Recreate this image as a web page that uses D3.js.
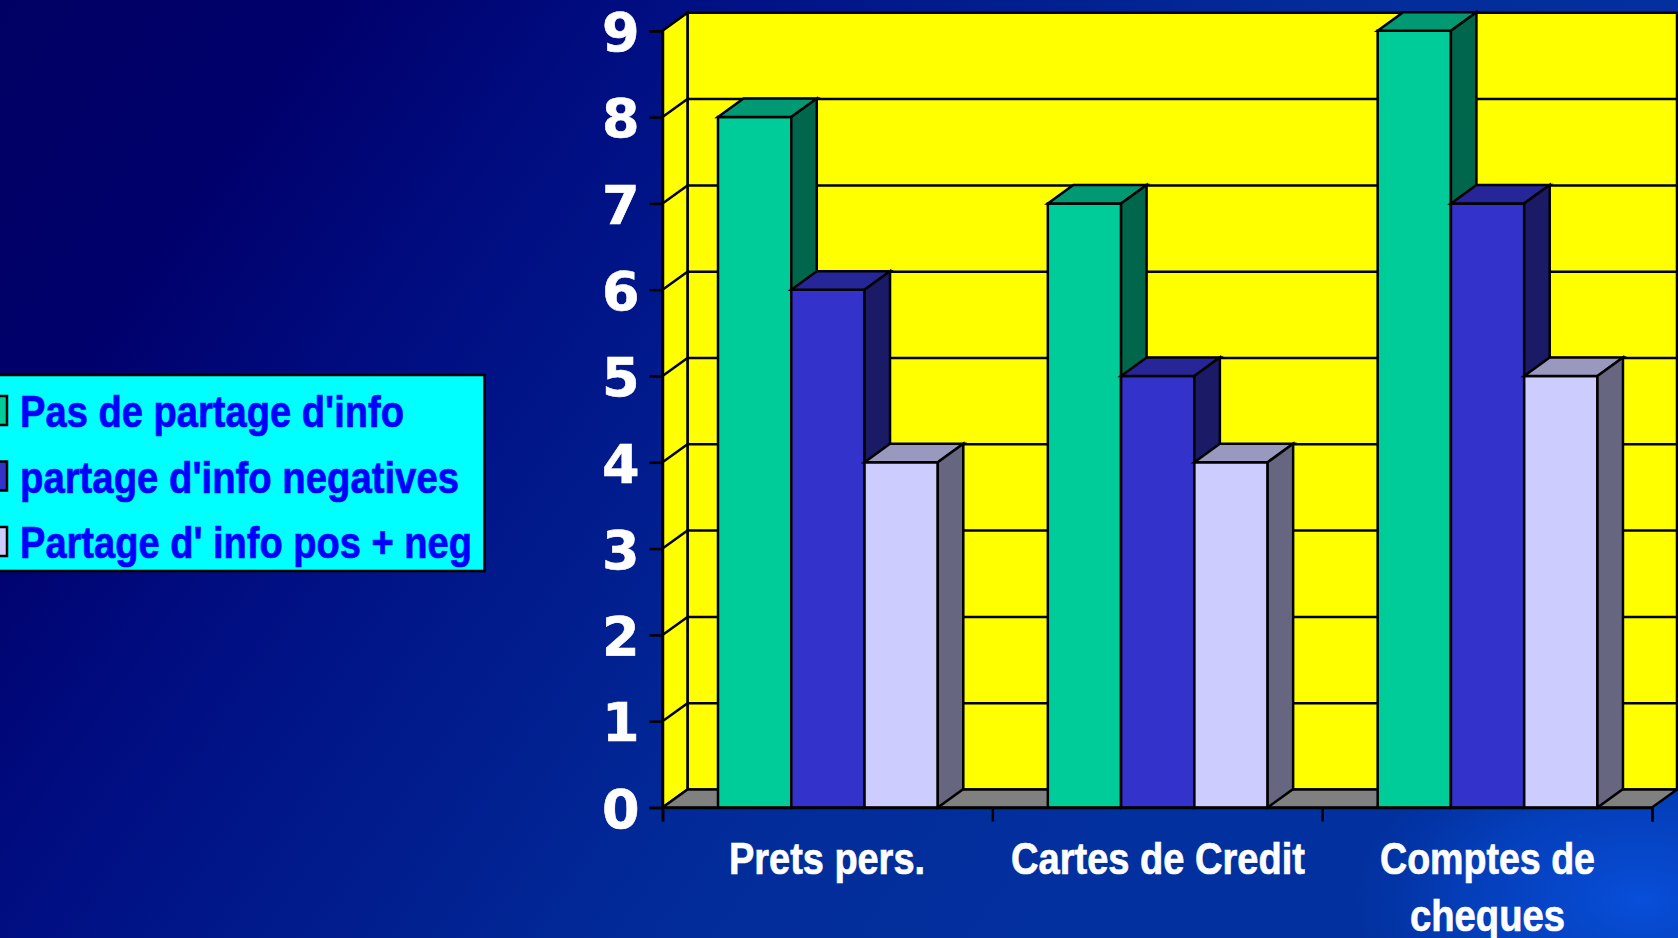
<!DOCTYPE html>
<html><head><meta charset="utf-8">
<script src="https://cdnjs.cloudflare.com/ajax/libs/d3/7.8.5/d3.min.js"></script>
<style>html,body{margin:0;padding:0;background:#001a80;overflow:hidden}svg{display:block}</style>
</head><body><svg id="c" width="1678" height="938"></svg>
<script>
const categories = ["Prets pers.", "Cartes de Credit", "Comptes de cheques"];
const seriesNames = ["Pas de partage d'info", "partage d'info negatives", "Partage d' info pos + neg"];
const seriesA = [8, 7, 9];
const seriesB = [6, 5, 7];
const seriesC = [4, 4, 5];
const yTicks = [0,1,2,3,4,5,6,7,8,9];
const frontColors = ["#00CC99","#3333CC","#CCCCFF"];
const topColors = ["#009973","#262699","#9999BF"];
const sideColors = ["#00664C","#1A1A66","#666680"];
const allSeries = [seriesA, seriesB, seriesC];

const svg = d3.select("#c"), defs = svg.append("defs");
const W = 1678, H = 938;

// background
const lg = defs.append("linearGradient").attr("id","bg").attr("gradientUnits","userSpaceOnUse")
  .attr("x1",0).attr("y1",0).attr("x2",1122).attr("y2",790);
[[0,"#000064"],[0.2,"#00006c"],[0.39,"#000e82"],[0.79,"#022c9a"],[1,"#02309e"]].forEach(s=>lg.append("stop").attr("offset",s[0]).attr("stop-color",s[1]));
svg.append("rect").attr("width",W).attr("height",H).attr("fill","url(#bg)");
const rg = defs.append("radialGradient").attr("id","glow");
rg.append("stop").attr("offset",0).attr("stop-color","#0850dc").attr("stop-opacity",0.95);
rg.append("stop").attr("offset",0.6).attr("stop-color","#0648cc").attr("stop-opacity",0.6);
rg.append("stop").attr("offset",1).attr("stop-color","#0640c0").attr("stop-opacity",0);
svg.append("ellipse").attr("cx",1640).attr("cy",900).attr("rx",290).attr("ry",170).attr("fill","url(#glow)");

// geometry
const x0 = 662.5, x1 = 1652, y0 = 807.5, y9 = 30.8, dx = 25, dy = 18, bdx = 25.5, bdy = 18.5;
const xCat = d3.scaleBand().domain(categories).range([x0,x1]);
const xEdge = d3.scaleLinear().domain([0,categories.length]).range([x0,x1]);
const y = d3.scaleLinear().domain([0,9]).range([y0,y9]);
const xBar = d3.scaleBand().domain(d3.range(3)).range([55.5,275.3]);
const line = d3.line();
const sw = 2.5;
const poly = (g,pts,fill)=>g.append("path").attr("d",line(pts)+"Z").attr("fill",fill).attr("stroke","#000").attr("stroke-width",sw).attr("stroke-linejoin","miter");

const plot = svg.append("g");
poly(plot,[[x0+dx,y9-dy],[x1+dx,y9-dy],[x1+dx,y0-dy],[x0+dx,y0-dy]],"#FFFF00");
poly(plot,[[x0,y9],[x0+dx,y9-dy],[x0+dx,y0-dy],[x0,y0]],"#FFFF00");
poly(plot,[[x0,y0],[x0+dx,y0-dy],[x1+dx,y0-dy],[x1,y0]],"#808080");

// gridlines
plot.append("g").selectAll("path").data(yTicks.filter(d=>d>0&&d<9)).join("path")
  .attr("d",d=>line([[x0,y(d)],[x0+dx,y(d)-dy],[x1+dx,y(d)-dy]]))
  .attr("fill","none").attr("stroke","#000").attr("stroke-width",sw);

// bars
categories.forEach((c,i)=>{
  allSeries.forEach((s,k)=>{
    const g = plot.append("g");
    const l = xCat(c)+xBar(k), r = l+xBar.bandwidth(), t = y(s[i]);
    poly(g,[[l,t],[r,t],[r,y0],[l,y0]],frontColors[k]);
    poly(g,[[l,t],[l+bdx,t-bdy],[r+bdx,t-bdy],[r,t]],topColors[k]);
    poly(g,[[r,t],[r+bdx,t-bdy],[r+bdx,y0-bdy],[r,y0]],sideColors[k]);
  });
});

// axes
const yAxis = d3.axisLeft(y).tickValues(yTicks).tickSize(13).tickPadding(10).tickFormat(d3.format("d"));
const ya = svg.append("g").attr("transform",`translate(${x0},0)`).call(yAxis);
ya.select(".domain").attr("stroke","#000").attr("stroke-width",sw);
ya.selectAll(".tick line").attr("stroke","#000").attr("stroke-width",sw);
ya.selectAll(".tick text").attr("fill","#fff").attr("font-family","'DejaVu Sans'").attr("font-weight","bold").attr("font-size",54).attr("dy","0.365em").attr("stroke","#fff").attr("stroke-width",0.6);
const xAxis = d3.axisBottom(xEdge).tickValues(d3.range(categories.length+1)).tickSize(14).tickFormat("");
const xa = svg.append("g").attr("transform",`translate(0,${y0})`).call(xAxis);
xa.select(".domain").attr("stroke","#000").attr("stroke-width",sw);
xa.selectAll(".tick line").attr("stroke","#000").attr("stroke-width",sw);

// narrow bold labels
const label = (parent,str,xs,xe,base,fill)=>parent.append("text").text(str).attr("x",xs).attr("y",base)
  .attr("textLength",xe-xs).attr("lengthAdjust","spacingAndGlyphs")
  .attr("font-family","'Liberation Sans'").attr("font-weight","bold").attr("font-size",45)
  .attr("fill",fill).attr("stroke",fill).attr("stroke-width",0.7);
const xl = svg.append("g");
label(xl,"Prets pers.",729,925,874,"#fff");
label(xl,"Cartes de Credit",1011,1305,874,"#fff");
label(xl,"Comptes de",1380,1595,874,"#fff");
label(xl,"cheques",1410,1565,931,"#fff");

// legend
const lgd = svg.append("g");
lgd.append("rect").attr("x",-10).attr("y",375).attr("width",494.5).attr("height",196).attr("fill","#00FFFF").attr("stroke","#000").attr("stroke-width",sw);
const legendExt = [[20,404,427],[20,459,493],[20,472,558]];
seriesNames.forEach((n,k)=>{
  lgd.append("rect").attr("x",-20).attr("y",396+k*65.5).attr("width",27).attr("height",29).attr("fill",frontColors[k]).attr("stroke","#000").attr("stroke-width",sw);
  label(lgd,n,legendExt[k][0],legendExt[k][1],legendExt[k][2],"#0000FF");
});
</script></body></html>
